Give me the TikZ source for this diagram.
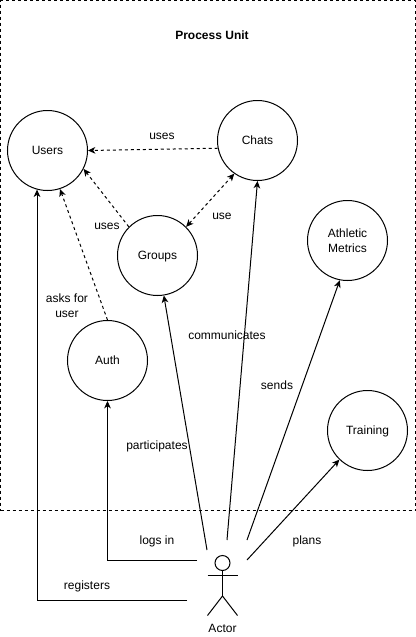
\documentclass[tikz,border=0pt]{standalone}
\usepackage{fontspec}
\setmainfont{Liberation Sans}
\usetikzlibrary{arrows.meta}
\tikzset{
    every node/.style={font=\fontsize{9pt}{11.25pt}\selectfont, align=center, text height=8pt, text depth=2pt},
    module/.style={circle, draw, minimum size=60pt, inner sep=0pt},
    txt/.style={inner sep=0pt},
    twolines/.style={text height={}, text depth={}},
    unit/.style={draw, dashed, dash pattern=on 2.25pt off 2.25pt, minimum width=311.25pt, minimum height=382.5pt, inner sep=0pt},
    dep/.style={dash pattern=on 2.25pt off 2.25pt},
    tip/.style={-{Stealth[length=5.5pt,width=5pt,inset=1.6pt]}},
    bitip/.style={{Stealth[length=5.5pt,width=5pt,inset=1.6pt]}-{Stealth[length=5.5pt,width=5pt,inset=1.6pt]}}
}
\begin{document}
\begin{tikzpicture}[x=0.75pt, y=-0.75pt, line width=0.75pt]
	\useasboundingbox (0,0) rectangle (416,637);
	\node (unit) [unit] at (208,255.5) {};
	\node (title) [txt, font=\fontsize{9pt}{11.25pt}\selectfont\bfseries] at (212,35) {Process Unit};

	\node (users) [module] at (47.5,150.5) {Users};
	\node (chats) [module] at (257.5,140.5) {Chats};
	\node (groups) [module] at (157.5,255.5) {Groups};
	\node (metrics) [module, twolines] at (347.5,240.5) {Athletic\\Metrics};
	\node (auth) [module] at (107.5,360.5) {Auth};
	\node (training) [module] at (367.5,430.5) {Training};

	% actor
	\node (head) [circle, draw, minimum size=11.25pt, inner sep=0pt] at (222.5,563) {};
	\coordinate (hip) at (222.5,596);
	\coordinate (armL) at (207.5,575.5);
	\coordinate (armR) at (237.5,575.5);
	\coordinate (legL) at (207.5,615.5);
	\coordinate (legR) at (237.5,615.5);
	\draw (head) -- (hip);
	\draw (armL) -- (armR);
	\draw (legL) -- (hip) -- (legR);
	\node (actor) [txt] at (222.5,628) {Actor};

	% free ends near the actor
	\coordinate (reg) at (187,600.5);
	\coordinate (log) at (197,560.5);
	\coordinate (par) at (207,550);
	\coordinate (com) at (227,540);
	\coordinate (snd) at (247,540);
	\coordinate (pln) at (247,560);

	\draw [tip] (reg) -| (users.-105);
	\draw [tip] (log) -| (auth.south);
	\draw [tip] (par) -- (groups.-81);
	\draw [tip] (com) -- (chats.south);
	\draw [tip] (snd) -- (metrics.-101);
	\draw [tip] (pln) -- (training.226);

	\draw [tip, dep] (chats.191) -- (users.east);
	\draw [tip, dep] (groups.135) -- (users.-27);
	\draw [tip, dep] (auth.north) -- (users.-72);
	\draw [bitip, dep] (groups.45) -- (chats.235);

	\node (l1) [txt] at (162,135) {uses};
	\node (l2) [txt] at (107,225) {uses};
	\node (l3) [txt] at (222,215) {use};
	\node (l4) [txt, twolines] at (67,306) {asks for\\user};
	\node (l5) [txt] at (227,335) {communicates};
	\node (l6) [txt] at (277,385) {sends};
	\node (l7) [txt] at (157,445) {participates};
	\node (l8) [txt] at (157,540) {logs in};
	\node (l9) [txt] at (87,585) {registers};
	\node (l10) [txt] at (307,540) {plans};
\end{tikzpicture}
\end{document}
